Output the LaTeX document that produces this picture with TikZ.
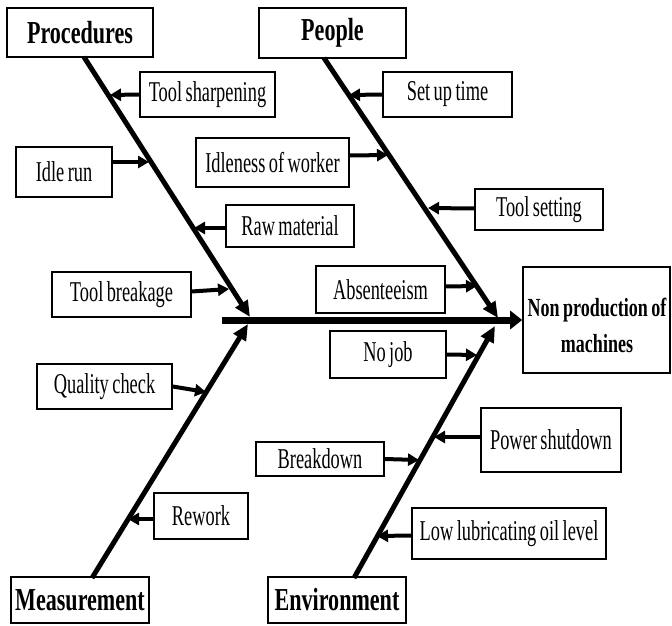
\documentclass[tikz,border=0pt]{standalone}
\usepackage{fontspec}
\setmainfont{Liberation Serif}[FakeStretch=0.64, WordSpace=0.75]
\newfontfamily\headfont{Liberation Serif}[FakeStretch=0.69, WordSpace=0.8]
\usetikzlibrary{arrows.meta}
\tikzset{
  cause/.style={draw, line width=1.6pt, inner sep=0pt, align=center,
    font=\fontsize{28.7}{30}\selectfont},
  head/.style={draw, line width=1.6pt, inner sep=0pt, align=center,
    font=\headfont\bfseries\fontsize{32}{34}\selectfont},
  bone/.style={line width=5pt, -{Triangle[length=16pt,width=14pt]}},
  spine/.style={line width=7pt, -{Triangle[length=12pt,width=18pt]}},
  small/.style={line width=4pt, -{Triangle[length=11pt,width=12pt]}},
}
\begin{document}
\begin{tikzpicture}[x=1pt,y=-1pt]
\useasboundingbox (0,0) rectangle (672,626);
% heads
\node[head, minimum width=146pt, minimum height=49pt] (proc) at (80,32.5) {Procedures};
\node[head, minimum width=147pt, minimum height=50pt] (peop) at (332.5,33) {People};
\node[head, minimum width=138pt, minimum height=46pt] (meas) at (80,600) {Measurement};
\node[head, minimum width=138pt, minimum height=46pt] (envi) at (337,600) {Environment};
% effect
\node[draw, line width=1.6pt, minimum width=147pt, minimum height=106pt] (np) at (596.5,320) {};
\node[align=center, inner sep=0pt, font=\headfont\bfseries\fontsize{26.1}{36}\selectfont] (nplab) at (597,325) {Non production of\\machines};
% causes
\node[cause, minimum width=135pt, minimum height=45pt] (ts) at (207.5,94.5) {Tool sharpening};
\node[cause, minimum width=96pt, minimum height=50pt] (ir) at (64,172) {Idle run};
\node[cause, minimum width=153pt, minimum height=49pt] (iw) at (272.5,162.5) {Idleness of worker};
\node[cause, minimum width=128pt, minimum height=42pt] (rm) at (290,226) {Raw material};
\node[cause, minimum width=139pt, minimum height=45pt] (tb) at (121.5,294.5) {Tool breakage};
\node[cause, minimum width=129pt, minimum height=47pt] (ab) at (380.5,289.5) {Absenteeism};
\node[cause, minimum width=129pt, minimum height=45pt] (su) at (447.5,94.5) {Set up time};
\node[cause, minimum width=128pt, minimum height=41pt] (tset) at (539,209.5) {Tool setting};
\node[cause, minimum width=135pt, minimum height=45pt] (qc) at (104.5,386.5) {Quality check};
\node[cause, minimum width=94pt, minimum height=46pt] (rw) at (201,516) {Rework};
\node[cause, minimum width=128pt, minimum height=34pt] (bd) at (320,459) {Breakdown};
\node[cause, minimum width=116pt, minimum height=47pt] (nj) at (388,354.5) {No job};
\node[cause, minimum width=140pt, minimum height=64pt] (ps) at (551,440) {Power shutdown};
\node[cause, minimum width=194pt, minimum height=51pt] (ll) at (509,533.5) {Low lubricating oil level};
% bone endpoints
\coordinate (procS) at (84,57);
\coordinate (procT) at (250,317);
\coordinate (peopS) at (324,58);
\coordinate (peopT) at (498,318);
\coordinate (measS) at (92,578);
\coordinate (measT) at (248,324);
\coordinate (enviS) at (354,578);
\coordinate (enviT) at (495,326);
\coordinate (spS) at (222,320);
% bones
\draw[spine] (spS) -- (np.west |- spS);
\draw[bone] (procS) -- (procT);
\draw[bone] (peopS) -- (peopT);
\draw[bone] (measS) -- (measT);
\draw[bone] (enviS) -- (enviT);
% small arrow tips
\coordinate (tsT) at (110,95);
\coordinate (irT) at (149,162);
\coordinate (rmT) at (194,228);
\coordinate (tbT) at (229,289);
\coordinate (suT) at (349,95);
\coordinate (iwT) at (388,155);
\coordinate (tsetT) at (428,208);
\coordinate (abT) at (477,286);
\coordinate (qcT) at (206,392);
\coordinate (rwT) at (128,519);
\coordinate (njT) at (477,355);
\coordinate (bdT) at (419,460);
\coordinate (psT) at (434,437);
\coordinate (llT) at (377,536);
% small arrows
\draw[small] (ts.west) -- (tsT);
\draw[small] ([yshift=10pt]ir.east) -- (irT);
\draw[small] ([yshift=-2pt]rm.west) -- (rmT);
\draw[small] ([yshift=3pt]tb.east) -- (tbT);
\draw[small] (su.west) -- (suT);
\draw[small] ([yshift=7pt]iw.east) -- (iwT);
\draw[small] ([yshift=1pt]tset.west) -- (tsetT);
\draw[small] ([yshift=3pt]ab.east) -- (abT);
\draw[small] (qc.east) -- (qcT);
\draw[small] ([yshift=-3pt]rw.west) -- (rwT);
\draw[small] (nj.east) -- (njT);
\draw[small] (bd.east) -- (bdT);
\draw[small] ([yshift=3pt]ps.west) -- (psT);
\draw[small] ([yshift=-2pt]ll.west) -- (llT);
\end{tikzpicture}
\end{document}
